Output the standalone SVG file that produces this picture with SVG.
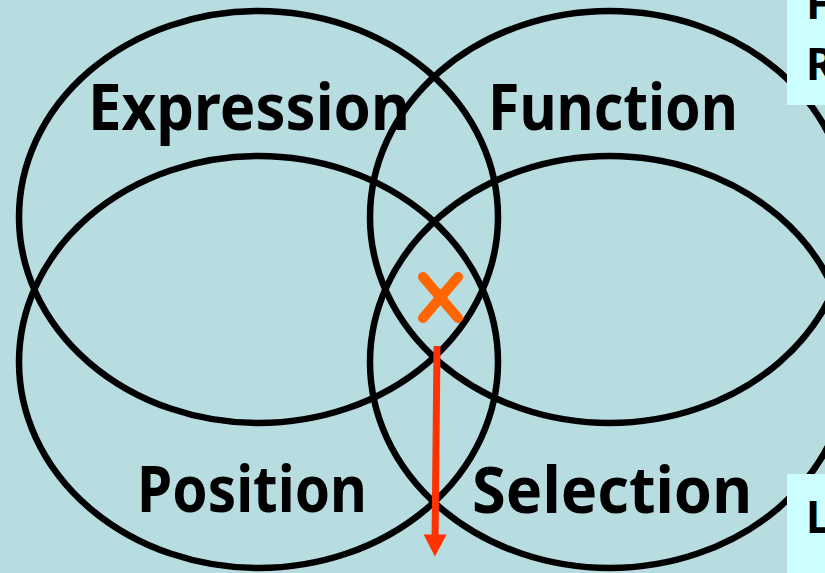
<svg xmlns="http://www.w3.org/2000/svg" width="825" height="573" viewBox="0 0 825 573">
  <style>
    .ring { fill: none; stroke: #000000; stroke-width: 6.5; }
    .lbl { font-family: "Comic Sans MS", "Noto Sans", "DejaVu Sans", sans-serif; font-weight: bold; font-size: 64px; fill: #000000; }
    .side { font-family: "Comic Sans MS", "Noto Sans", "DejaVu Sans", sans-serif; font-weight: bold; font-size: 44px; fill: #000000; }
    .note { fill: #ccffff; stroke: none; }
  </style>
  <defs>
    <marker id="arrowhead" markerWidth="24" markerHeight="23" refX="12" refY="0" orient="auto-start-reverse" markerUnits="userSpaceOnUse" viewBox="0 -12 23 24">
      <path d="M0,-12 L23,0 L0,12 Z" fill="#ff3300"/>
    </marker>
  </defs>
  <rect x="0" y="0" width="825" height="573" fill="#b8dde0"/>

  <g id="node-expression">
    <ellipse class="ring" cx="258.5" cy="217" rx="239.5" ry="206"/>
    <text class="lbl" x="88" y="130" textLength="322" lengthAdjust="spacingAndGlyphs">Expression</text>
  </g>
  <g id="node-function">
    <ellipse class="ring" cx="609.5" cy="217" rx="239.5" ry="206"/>
    <text class="lbl" x="488" y="130" textLength="250" lengthAdjust="spacingAndGlyphs">Function</text>
  </g>
  <g id="node-position">
    <ellipse class="ring" cx="258.5" cy="362" rx="239.5" ry="206"/>
    <text class="lbl" x="137" y="512" textLength="230" lengthAdjust="spacingAndGlyphs">Position</text>
  </g>
  <g id="node-selection">
    <ellipse class="ring" cx="609.5" cy="362" rx="239.5" ry="206"/>
    <text class="lbl" x="472" y="513" textLength="280" lengthAdjust="spacingAndGlyphs">Selection</text>
  </g>

  <g id="node-mark">
    <line x1="423" y1="277" x2="458" y2="318" stroke="#ff6600" stroke-width="10" stroke-linecap="round"/>
    <line x1="458" y1="277" x2="423" y2="318" stroke="#ff6600" stroke-width="10" stroke-linecap="round"/>
  </g>

  <g id="connectors">
    <line x1="437" y1="346" x2="435" y2="546" stroke="#ff3300" stroke-width="7" marker-end="url(#arrowhead)"/>
  </g>

  <g id="node-note-top">
    <rect class="note" x="787" y="0" width="38" height="105"/>
    <text class="side" x="806" y="19">F</text>
    <text class="side" x="806" y="80">R</text>
  </g>
  <g id="node-note-bottom">
    <rect class="note" x="787" y="474" width="38" height="99"/>
    <text class="side" x="806" y="533">L</text>
  </g>
</svg>
